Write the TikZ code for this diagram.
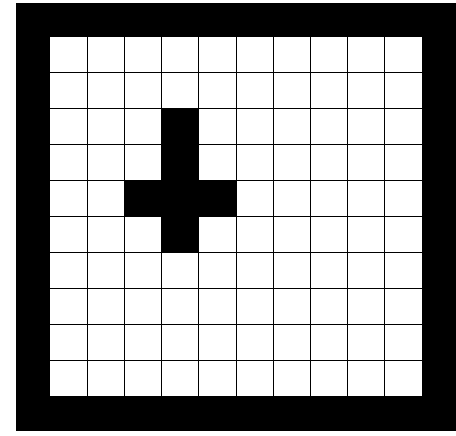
\documentclass[tikz,border=0pt]{standalone}
\usetikzlibrary{calc}

\begin{document}
\begin{tikzpicture}[x=1pt,y=-1pt]
  \useasboundingbox (0,0) rectangle (456,436);
  % black frame
  \fill (16,3) rectangle (456,431);
  \begin{scope}[shift={(50,37)},x=37.2pt,y=-35.9pt]
    \fill[white] (0,0) rectangle (10,10);
    \foreach \i in {1,...,9} {
      \draw[line width=.8pt] (\i,0) -- (\i,10);
      \draw[line width=.8pt] (0,\i) -- (10,\i);
    }
    % the cross
    \fill (3,2) rectangle (4,6);
    \fill (2,4) rectangle (5,5);
  \end{scope}
\end{tikzpicture}
\end{document}
